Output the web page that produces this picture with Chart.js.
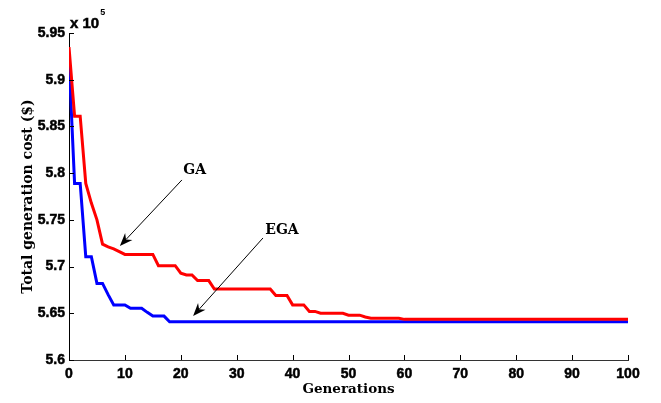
<!DOCTYPE html>
<html><head><meta charset="utf-8">
<style>html,body{margin:0;padding:0;background:#fff}#wrap{width:661px;height:403px;position:relative}</style>
<script src="https://cdn.jsdelivr.net/npm/chart.js@4/dist/chart.umd.min.js"></script>
</head><body><div id="wrap"><canvas id="c"></canvas></div>
<script>
// Generations 0..100
const generations = [0,1,2,3,4,5,6,7,8,9,10,11,12,13,14,15,16,17,18,19,20,21,22,23,24,25,26,27,28,29,30,31,32,33,34,35,36,37,38,39,40,41,42,43,44,45,46,47,48,49,50,51,52,53,54,55,56,57,58,59,60,61,62,63,64,65,66,67,68,69,70,71,72,73,74,75,76,77,78,79,80,81,82,83,84,85,86,87,88,89,90,91,92,93,94,95,96,97,98,99,100];
// Total generation cost (x 10^5 $)
const gaCost = [5.935,5.861,5.861,5.789,5.768,5.750,5.724,5.721,5.719,5.716,5.713,5.713,5.713,5.713,5.713,5.713,5.701,5.701,5.701,5.701,
  5.693,5.691,5.691,5.685,5.685,5.685,5.676,5.676,5.676,5.676,5.676,5.676,5.676,5.676,5.676,5.676,5.676,5.669,5.669,5.669,
  5.659,5.659,5.659,5.652,5.652,5.650,5.650,5.650,5.650,5.650,5.648,5.648,5.648,5.646,5.6446,5.6446,5.6446,5.6446,5.6446,5.6446,
  5.6435,5.6435,5.6435,5.6435,5.6435,5.6435,5.6435,5.6435,5.6435,5.6435,5.6435,5.6435,5.6435,5.6435,5.6435,5.6435,5.6435,5.6435,5.6435,5.6435,
  5.6435,5.6435,5.6435,5.6435,5.6435,5.6435,5.6435,5.6435,5.6435,5.6435,5.6435,5.6435,5.6435,5.6435,5.6435,5.6435,5.6435,5.6435,5.6435,5.6435,5.6435];
const egaCost = [5.922,5.789,5.789,5.7106,5.7106,5.682,5.682,5.670,5.659,5.659,5.659,5.6553,5.6553,5.6553,5.651,5.647,5.647,5.647,5.641,5.641,
  5.641,5.641,5.641,5.641,5.641,5.641,5.641,5.641,5.641,5.641,5.641,5.641,5.641,5.641,5.641,5.641,5.641,5.641,5.641,5.641,
  5.641,5.641,5.641,5.641,5.641,5.641,5.641,5.641,5.641,5.641,5.641,5.641,5.641,5.641,5.641,5.641,5.641,5.641,5.641,5.641,
  5.641,5.641,5.641,5.641,5.641,5.641,5.641,5.641,5.641,5.641,5.641,5.641,5.641,5.641,5.641,5.641,5.641,5.641,5.641,5.641,
  5.641,5.641,5.641,5.641,5.641,5.641,5.641,5.641,5.641,5.641,5.641,5.641,5.641,5.641,5.641,5.641,5.641,5.641,5.641,5.641,5.641];
const seriesNames = ['GA','EGA'];
const xTicks = [0,10,20,30,40,50,60,70,80,90,100];
const yTicks = [5.6,5.65,5.7,5.75,5.8,5.85,5.9,5.95];
// Annotation labels with arrows (data coordinates)
const notes = [
  {text:'GA',  tx:22.5, ty:5.8027, x1:20.2, y1:5.7927, x2:9.1,  y2:5.722},
  {text:'EGA', tx:38.1, ty:5.739,  x1:34.7, y1:5.7306, x2:22.2, y2:5.6471}
];

const pts = arr => arr.map((v,i)=>({x:generations[i], y:v}));
const SANS = '"Liberation Sans", Arial, sans-serif';
const SERIF = '"DejaVu Serif", serif';

const decor = {
  id:'decor',
  afterDraw(chart){
    const {ctx, chartArea:a, scales:{x,y}} = chart;
    ctx.save();
    // inward ticks
    ctx.strokeStyle='#000'; ctx.lineWidth=1;
    ctx.beginPath();
    xTicks.forEach(v=>{const px=Math.round(x.getPixelForValue(v))+0.5; ctx.moveTo(px,a.bottom); ctx.lineTo(px,a.bottom-5);});
    yTicks.forEach(v=>{const py=Math.round(y.getPixelForValue(v))+0.5; ctx.moveTo(a.left,py); ctx.lineTo(a.left+5,py);});
    ctx.stroke();
    // exponent
    ctx.fillStyle='#000'; ctx.strokeStyle='#000'; ctx.lineWidth=0.5;
    ctx.textBaseline='alphabetic'; ctx.textAlign='left';
    ctx.font='bold 15px ' + SANS;
    ctx.fillText('x 10', a.left+1, a.top-5);
    ctx.strokeText('x 10', a.left+1, a.top-5);
    const w = ctx.measureText('x 10').width;
    ctx.font='bold 9px ' + SANS;
    ctx.fillText('5', a.left+1+w+1, a.top-18);
    // annotations
    notes.forEach(n=>{
      const sx=x.getPixelForValue(n.x1), sy=y.getPixelForValue(n.y1);
      const ex=x.getPixelForValue(n.x2), ey=y.getPixelForValue(n.y2);
      const ang=Math.atan2(ey-sy, ex-sx);
      const L=13, W=5, N=9;
      ctx.strokeStyle='#000'; ctx.lineWidth=1;
      ctx.beginPath(); ctx.moveTo(sx,sy);
      ctx.lineTo(ex-Math.cos(ang)*N, ey-Math.sin(ang)*N); ctx.stroke();
      const bx=ex-Math.cos(ang)*L, by=ey-Math.sin(ang)*L;
      const nx=-Math.sin(ang), ny=Math.cos(ang);
      ctx.beginPath();
      ctx.moveTo(ex,ey);
      ctx.lineTo(bx+nx*W, by+ny*W);
      ctx.lineTo(ex-Math.cos(ang)*N, ey-Math.sin(ang)*N);
      ctx.lineTo(bx-nx*W, by-ny*W);
      ctx.closePath(); ctx.fillStyle='#000'; ctx.fill();
      ctx.font='bold 14px ' + SERIF;
      ctx.textAlign='center'; ctx.textBaseline='middle';
      ctx.fillText(n.text, x.getPixelForValue(n.tx), y.getPixelForValue(n.ty));
    });
    ctx.restore();
  }
};

const tickFont = {family:SANS, size:14, weight:'bold'};

new Chart(document.getElementById('c'), {
  type:'line',
  data:{
    datasets:[
      {label:seriesNames[0], data:pts(gaCost), borderColor:'#ff0000', borderWidth:3, pointRadius:0, tension:0, fill:false},
      {label:seriesNames[1], data:pts(egaCost), borderColor:'#0000ff', borderWidth:3, pointRadius:0, tension:0, fill:false}
    ]
  },
  options:{
    responsive:true, maintainAspectRatio:false, animation:false,
    layout:{padding:{top:33, right:33, left:0, bottom:0}},
    plugins:{legend:{display:false}, tooltip:{enabled:false}},
    scales:{
      x:{type:'linear', min:0, max:100,
        afterFit(s){ s.height=43; },
        afterBuildTicks(s){ s.ticks = xTicks.map(v=>({value:v})); },
        grid:{display:true, drawOnChartArea:false, drawTicks:false},
        border:{display:true, color:'#333', width:1},
        ticks:{color:'#000', font:tickFont, padding:6, maxRotation:0, autoSkip:false, textStrokeColor:'#000', textStrokeWidth:0.5, callback:v=>String(v)},
        title:{display:true, text:'Generations', color:'#000', font:{family:SERIF, size:13.5, weight:'bold'}, padding:{top:0,bottom:5}}
      },
      y:{type:'linear', min:5.6, max:5.95,
        afterFit(s){ s.width=69; },
        afterBuildTicks(s){ s.ticks = yTicks.map(v=>({value:v})); },
        grid:{display:true, drawOnChartArea:false, drawTicks:false},
        border:{display:true, color:'#000', width:1},
        ticks:{color:'#000', font:tickFont, padding:4, autoSkip:false, textStrokeColor:'#000', textStrokeWidth:0.5, callback:v=>String(Number(v.toFixed(2)))},
        title:{display:true, text:'Total generation cost ($)', color:'#000', font:{family:SERIF, size:14, weight:'bold'}, padding:{top:20,bottom:0}}
      }
    }
  },
  plugins:[decor]
});
</script>
</body></html>
